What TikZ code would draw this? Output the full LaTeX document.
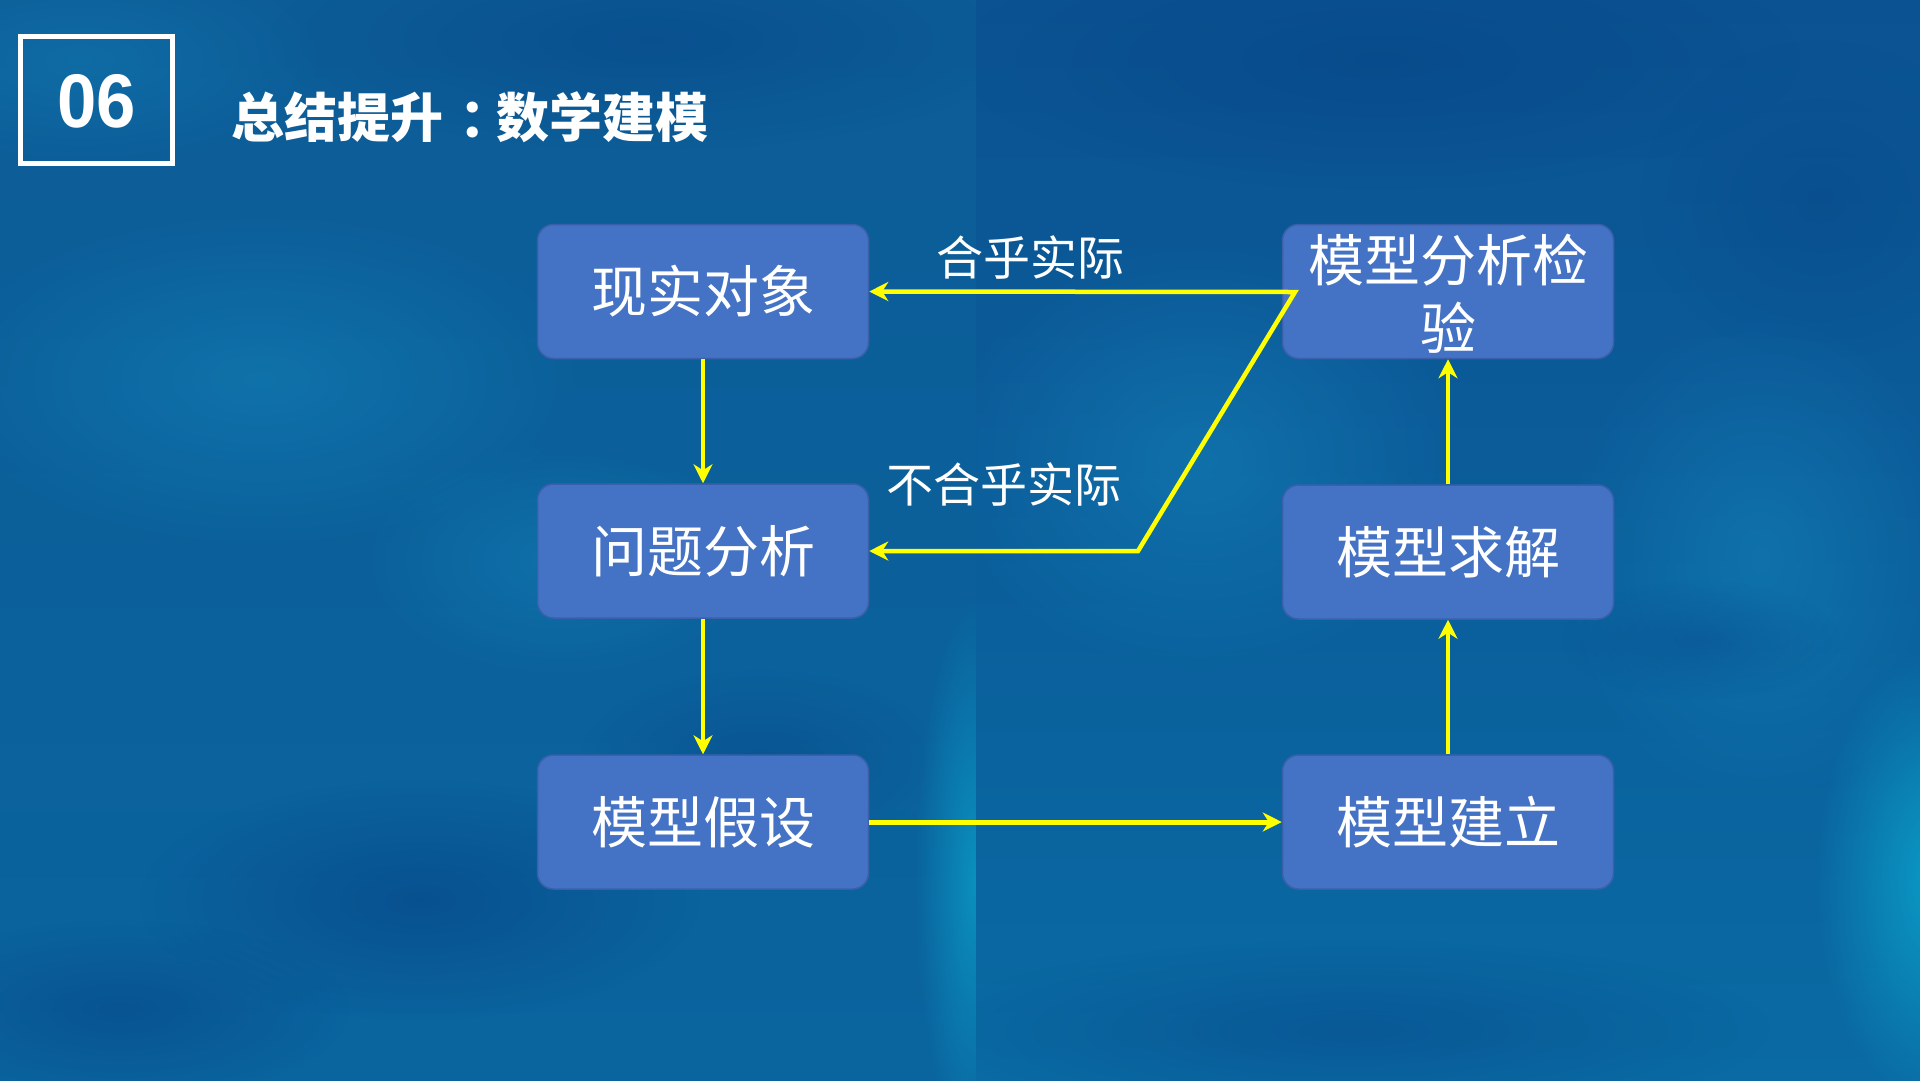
\documentclass[tikz,border=0pt]{standalone}
\usepackage{fontspec}
\setmainfont{Liberation Sans}
\newfontfamily\cjk{Noto Sans CJK SC}
\usetikzlibrary{arrows.meta,fadings}
\tikzfading[name=softblob, inner color=transparent!0, outer color=transparent!100]
\definecolor{boxblue}{HTML}{4472C4}
\definecolor{boxline}{HTML}{3A60AA}
\definecolor{arrowyellow}{HTML}{FFFF00}
\definecolor{Lone}{HTML}{0C5C97}
\definecolor{Ltwo}{HTML}{0A73AA}
\definecolor{Lthree}{HTML}{0A649E}
\definecolor{Rone}{HTML}{0B5292}
\definecolor{Rtwo}{HTML}{0A72AB}
\definecolor{Rthree}{HTML}{0A6AA3}
\definecolor{darkpatch}{HTML}{07498A}
\definecolor{lightpatch}{HTML}{1689BE}
\definecolor{cyanglow}{HTML}{0AA4CC}
\begin{document}
\begin{tikzpicture}[x=1pt,y=-1pt,
  stepbox/.style={draw=boxline, line width=1.5pt, fill=boxblue, rounded corners=16pt,
    minimum width=331pt, minimum height=134pt, text=white,
    font=\cjk\fontsize{56}{68}\selectfont, align=center, inner sep=0pt},
  tip/.tip={Stealth[length=19pt,width=19pt,inset=6pt]},
  conn/.style={draw=arrowyellow, line width=4pt, -tip},
  lbl/.style={text=white, font=\cjk\fontsize{47}{56}\selectfont, inner sep=0pt},
  blob/.style={path fading=softblob}]
\useasboundingbox (0,0) rectangle (1920,1080);
% ---------- background ----------
\begin{scope}
  \clip (0,0) rectangle (976,1080);
  \shade[top color=Lone, middle color=Ltwo, bottom color=Lthree] (0,0) rectangle (976,1080);
  \fill[blob, lightpatch, opacity=0.45] (260,380) ellipse (330 and 170);
  \fill[blob, lightpatch, opacity=0.35] (80,60) ellipse (250 and 110);
  \fill[blob, darkpatch, opacity=0.6] (650,40) ellipse (380 and 110);
  \fill[blob, darkpatch, opacity=0.7] (420,900) ellipse (280 and 120);
  \fill[blob, darkpatch, opacity=0.6] (120,1010) ellipse (230 and 90);
  \fill[blob, darkpatch, opacity=0.5] (760,760) ellipse (180 and 90);
  \fill[blob, lightpatch, opacity=0.4] (560,560) ellipse (200 and 120);
  \fill[blob, cyanglow, opacity=0.7] (975,880) ellipse (60 and 280);
\end{scope}
\begin{scope}
  \clip (976,0) rectangle (1920,1080);
  \shade[top color=Rone, middle color=Rtwo, bottom color=Rthree] (976,0) rectangle (1920,1080);
  \fill[blob, darkpatch, opacity=0.75] (1380,60) ellipse (420 and 130);
  \fill[blob, darkpatch, opacity=0.5] (1820,200) ellipse (180 and 160);
  \fill[blob, lightpatch, opacity=0.45] (1200,460) ellipse (260 and 220);
  \fill[blob, lightpatch, opacity=0.45] (1760,560) ellipse (200 and 250);
  \fill[blob, cyanglow, opacity=0.85] (1935,880) ellipse (120 and 230);
  \fill[blob, darkpatch, opacity=0.5] (1350,1030) ellipse (420 and 90);
  \fill[blob, darkpatch, opacity=0.4] (1700,640) ellipse (140 and 60);
\end{scope}
% ---------- title ----------
\node[draw=white, line width=4.5pt, minimum width=152pt, minimum height=127pt, inner sep=0pt] (numbox) at (96.5,100) {};
\node[text=white, font=\bfseries\fontsize{76}{80}\selectfont, inner sep=0pt] (num) at (97,101) {\scalebox{0.93}[1]{06}};
\node[anchor=west, text=white, font=\cjk\bfseries\fontsize{53}{60}\selectfont, inner sep=0pt] (title) at (231,117)
  {总结提升\hspace{0.3em}：\hspace{-0.3em}数学建模};
% ---------- boxes ----------
\node[stepbox] (xs) at (703,291.5) {\raisebox{-4pt}{现实对象}};
\node[stepbox] (wt) at (703,551) {\raisebox{-4pt}{问题分析}};
\node[stepbox] (js) at (703,822) {\raisebox{-4pt}{模型假设}};
\node[stepbox, text depth=0pt] (jy) at (1448,291.5) {模型分析检\\验};
\node[stepbox] (qj) at (1448,552) {\raisebox{-4pt}{模型求解}};
\node[stepbox] (jl) at (1448,822) {\raisebox{-4pt}{模型建立}};
% ---------- labels ----------
\node[lbl] (l1) at (1030,257) {合乎实际};
\node[lbl] (l2) at (1004,484) {不合乎实际};
% ---------- connectors ----------
\coordinate (jct) at (1295,292);
\coordinate (bend) at (1138,551);
\draw[conn, line width=3.5pt] (xs.south) -- (wt.north);
\draw[conn, line width=3.5pt] (wt.south) -- (js.north);
\draw[conn, line width=5pt] (js.east) -- (jl.west);
\draw[conn] (jl.north) -- (qj.south);
\draw[conn] (qj.north) -- (jy.south);
\draw[draw=arrowyellow, line width=4.5pt, tip-tip]
  (xs.east) -- (jct) -- (bend) -- (wt.east);
\end{tikzpicture}
\end{document}
